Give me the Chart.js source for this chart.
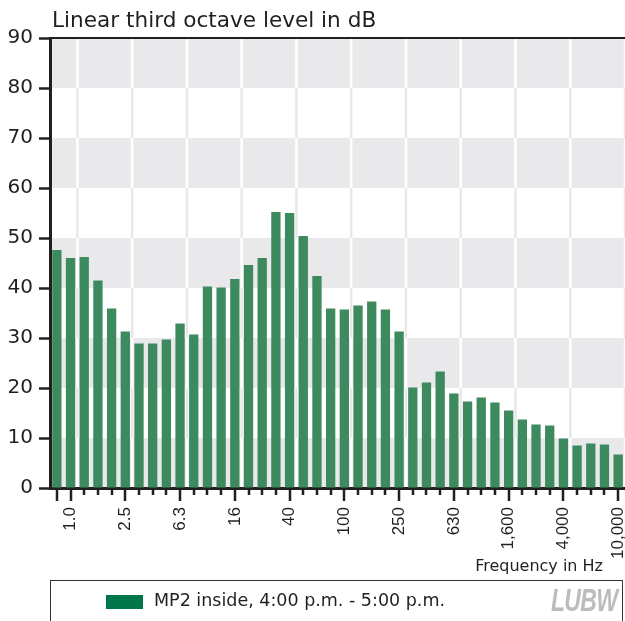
<!DOCTYPE html>
<html>
<head>
<meta charset="utf-8">
<script src="https://cdn.jsdelivr.net/npm/chart.js@4/dist/chart.umd.min.js"></script>
<style>
  html, body { margin: 0; padding: 0; background: #fff; }
  #wrap { position: relative; width: 625px; height: 621px; overflow: hidden; background: #fff; }
  #c { position: absolute; left: 0; top: 0; }
  .txt { position: absolute; font-family: "DejaVu Sans", sans-serif; color: #231f20; white-space: nowrap; line-height: 1; }
  #title { left: 52px; top: 9px; font-size: 21.6px; }
  #xtitle { right: 22px; top: 558px; font-size: 16px; }
  #legend { position: absolute; left: 50px; top: 580px; width: 573px; height: 60px; border: 1px solid #333; box-sizing: border-box; }
  #swatch { position: absolute; left: 55px; top: 14px; width: 37px; height: 14px; background: #00774a; }
  #legtext { left: 103px; top: 11px; font-size: 17.5px; }
  #logo { position: absolute; left: 500px; top: 3px; font-family: "Liberation Sans Narrow", "Liberation Sans", sans-serif; font-weight: bold; font-style: italic; font-size: 32px; line-height: 1; color: #bcbcbc; transform: scaleX(0.72); transform-origin: left top; letter-spacing: -1px; }
</style>
</head>
<body>
<div id="wrap">
  <canvas id="c" width="625" height="621"></canvas>
  <div class="txt" id="title">Linear third octave level in dB</div>
  <div class="txt" id="xtitle">Frequency in Hz</div>
  <div id="legend">
    <div id="swatch"></div>
    <div class="txt" id="legtext">MP2 inside, 4:00 p.m. - 5:00 p.m.</div>
    <div id="logo">LUBW</div>
  </div>
</div>
<script>
const freqBands = ['0.8','1.0','1.25','1.6','2.0','2.5','3.15','4.0','5.0','6.3','8.0','10','12.5','16','20','25','31.5','40','50','63','80','100','125','160','200','250','315','400','500','630','800','1,000','1,250','1,600','2,000','2,500','3,150','4,000','5,000','6,300','8,000','10,000'];
const tickLabels = ['1.0','2.5','6.3','16','40','100','250','630','1,600','4,000','10,000'];
const levels = [47.6,46.0,46.2,41.5,35.9,31.3,28.9,28.9,29.7,32.9,
                30.7,40.3,40.1,41.8,44.6,46.0,55.2,55.0,50.4,42.4,
                35.9,35.7,36.5,37.3,35.7,31.3,20.1,21.1,23.3,18.9,
                17.3,18.1,17.1,15.5,13.7,12.7,12.5,9.9,8.5,8.9,
                8.7,6.7];
const seriesName = 'MP2 inside, 4:00 p.m. - 5:00 p.m.';
const yTicks = { min: 0, max: 90, step: 10 };

const ink = '#231f20';

const backdrop = {
  id: 'backdrop',
  beforeDraw(chart) {
    const { ctx, chartArea: a, scales: { x, y } } = chart;
    ctx.save();
    ctx.fillStyle = '#fff';
    ctx.fillRect(a.left, a.top, a.right - a.left, a.bottom - a.top);
    for (let v = yTicks.min; v < yTicks.max; v += 2 * yTicks.step) {
      const yt = y.getPixelForValue(v + yTicks.step), yb = y.getPixelForValue(v);
      ctx.fillStyle = '#e9e9eb';
      ctx.fillRect(a.left, yt, a.right - a.left, yb - yt);
    }
    const half = (x.getPixelForValue(1) - x.getPixelForValue(0)) / 2;
    ctx.lineWidth = 2.5;
    freqBands.forEach((f, i) => {
      if (!tickLabels.includes(f)) return;
      const px = x.getPixelForValue(i) + half;
      for (let v = yTicks.min; v < yTicks.max; v += yTicks.step) {
        const yt = y.getPixelForValue(v + yTicks.step), yb = y.getPixelForValue(v);
        ctx.strokeStyle = ((v / yTicks.step) % 2 === 0) ? '#ffffff' : '#e8e8e8';
        ctx.beginPath(); ctx.moveTo(px, yt); ctx.lineTo(px, yb); ctx.stroke();
      }
    });
    ctx.restore();
  },
  afterDraw(chart) {
    const { ctx, chartArea: a, scales: { x } } = chart;
    ctx.save();
    ctx.strokeStyle = ink;
    ctx.lineWidth = 2.5;
    freqBands.forEach((f, i) => {
      const px = Math.round(x.getPixelForValue(i));
      const major = i === 0 || tickLabels.includes(f);
      ctx.beginPath();
      ctx.moveTo(px, a.bottom);
      ctx.lineTo(px, a.bottom + (major ? 13 : 7));
      ctx.stroke();
    });
    ctx.lineWidth = 2;
    ctx.beginPath();
    ctx.moveTo(a.left, a.top);
    ctx.lineTo(a.right, a.top);
    ctx.stroke();
    ctx.restore();
  }
};

new Chart(document.getElementById('c'), {
  type: 'bar',
  data: {
    labels: freqBands,
    datasets: [{
      label: seriesName,
      data: levels,
      backgroundColor: '#3d8a5f',
      borderWidth: 0,
      barPercentage: 0.68,
      categoryPercentage: 1.0
    }]
  },
  options: {
    responsive: false,
    animation: false,
    devicePixelRatio: 1,
    layout: { padding: { top: 38, left: 0, right: 0, bottom: 0 } },
    plugins: { legend: { display: false }, title: { display: false }, tooltip: { enabled: false } },
    scales: {
      x: {
        type: 'category',
        offset: true,
        z: 1,
        grid: { display: false, drawTicks: false },
        border: { display: true, width: 3, color: ink },
        ticks: {
          autoSkip: false,
          minRotation: 90,
          maxRotation: 90,
          padding: 19,
          color: ink,
          font: { family: 'Liberation Sans', size: 17 },
          callback: function (v, i) { const l = freqBands[i]; return tickLabels.includes(l) ? l : ''; }
        },
        afterFit(s) { s.height = 133; s.paddingLeft = 0; s.paddingRight = 0; }
      },
      y: {
        min: yTicks.min,
        max: yTicks.max,
        z: 1,
        grid: { display: true, drawOnChartArea: false, drawTicks: true, tickLength: 11, tickWidth: 2.5, tickColor: ink },
        border: { display: true, width: 3, color: ink },
        ticks: { stepSize: yTicks.step, padding: 6, color: ink, font: { family: 'DejaVu Sans', size: 20 } },
        afterFit(s) { s.width = 50; }
      }
    }
  },
  plugins: [backdrop]
});
</script>
</body>
</html>
